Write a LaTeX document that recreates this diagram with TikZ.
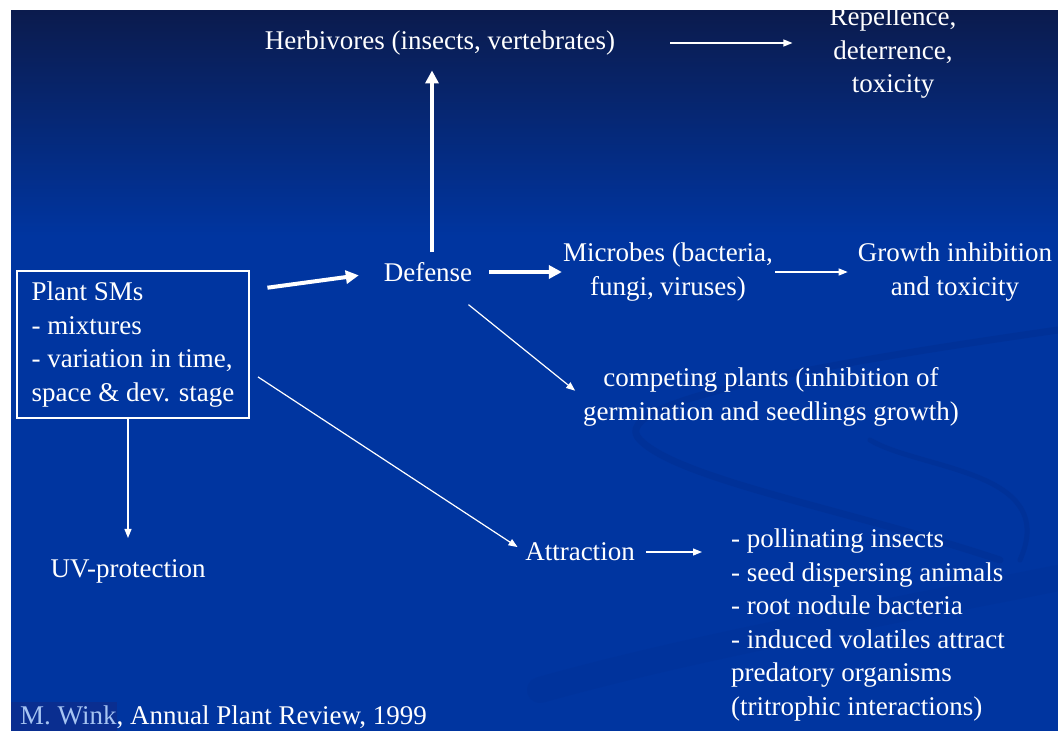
\documentclass[tikz,border=0pt]{standalone}
\usepackage{fontspec}
\setmainfont{Liberation Serif}
\usetikzlibrary{arrows.meta}

\definecolor{slideblue}{HTML}{0035A0}
\definecolor{slidenavy}{HTML}{0B1B4D}
\definecolor{swirlblue}{HTML}{002A86}
\definecolor{linkblue}{HTML}{A6C4F2}
\definecolor{markblue}{HTML}{0A2E90}

\tikzset{
  slide text/.style={text=white, inner sep=0pt, align=center,
    font=\fontsize{27}{33.5}\selectfont},
  sms box/.style={slide text, draw=white, line width=1.2pt, align=left,
    inner xsep=8pt, minimum width=232pt, minimum height=147pt},
  thin arrow/.style={white, line width=1.2pt, -{Triangle[length=9pt,width=7pt]}},
  bold arrow/.style={white, line width=4pt, -{Triangle[length=13pt,width=13pt]}},
  swirl/.style={swirlblue, opacity=0.3, line cap=round}
}

\begin{document}
\begin{tikzpicture}[x=1pt, y=-1pt]
\useasboundingbox (0,0) rectangle (1058,731);
\fill[white] (0,0) rectangle (1058,731);
\fill[slideblue] (11,235) rectangle (1058,731); % slide
\shade[top color=slidenavy, bottom color=slideblue] (11,10) rectangle (1058,236);
% swirl in the background
\draw[swirl, line width=7pt] (1058,330) .. controls (850,360) and (600,400) .. (640,440)
  .. controls (680,480) and (850,510) .. (1000,560);
\draw[swirl, line width=5pt] (870,440) .. controls (920,470) and (1060,470) .. (1020,560);
\draw[swirl, line width=26pt, opacity=0.15] (540,690) .. controls (700,645) and (900,610) .. (1058,578);
\fill[markblue] (11,702) rectangle (117,731); % mark behind name

\node[slide text] (herb) at (440,43) {Herbivores (insects, vertebrates)};
\node[slide text] (rep) at (893,53) {Repellence,\\deterrence,\\toxicity};
\node[slide text] (def) at (428,272) {Defense};
\node[slide text] (micro) at (668,272) {Microbes (bacteria,\\fungi, viruses)};
\node[slide text] (growth) at (955,272) {Growth inhibition\\and toxicity};
\node[slide text] (comp) at (771,397) {competing plants (inhibition of\\germination and seedlings growth)};
\node[sms box] (sms) at (133,344.5) {Plant SMs\\- mixtures\\- variation in time,\\space \& dev. stage};
\node[slide text] (uv) at (128,571) {UV-protection};
\node[slide text] (attr) at (580,552) {Attraction};
\node[slide text, align=left, anchor=west] (attr list) at (731,625)
  {- pollinating insects\\- seed dispersing animals\\- root nodule bacteria\\- induced volatiles attract\\predatory organisms\\(tritrophic interactions)};
\node[slide text, anchor=west] (cite) at (20,717)
  {\textcolor{linkblue}{M. Wink}, Annual Plant Review, 1999};

\draw[thin arrow, shorten <=55pt, shorten >=37pt] (herb.east) -- (herb.east -| rep.west); % herb -> rep
\draw[bold arrow, shorten <=10pt, shorten >=15pt]
  ([xshift=4pt]def.north) -- ([xshift=4pt]def.north |- herb.south); % def -> herb
\draw[bold arrow, shorten <=18pt, shorten >=25pt] (sms.25) -- (def.west); % sms -> def
\draw[bold arrow, shorten <=17pt, shorten >=1pt] (def.east) -- (micro.west); % def -> micro
\draw[thin arrow, shorten <=2pt, shorten >=10pt] (micro.east) -- (growth.west); % micro -> growth
\draw[thin arrow, shorten <=52pt, shorten >=10pt] (def.center) -- (comp.west); % def -> comp
\draw[thin arrow, shorten <=10pt, shorten >=9pt] (sms.-13) -- (attr.west); % sms -> attr
\draw[thin arrow, shorten <=11pt, shorten >=29pt] (attr.east) -- (attr.east -| attr list.west); % attr -> list
\draw[thin arrow, shorten >=21pt] (uv.north |- sms.south) -- (uv.north); % sms -> uv
\end{tikzpicture}
\end{document}
